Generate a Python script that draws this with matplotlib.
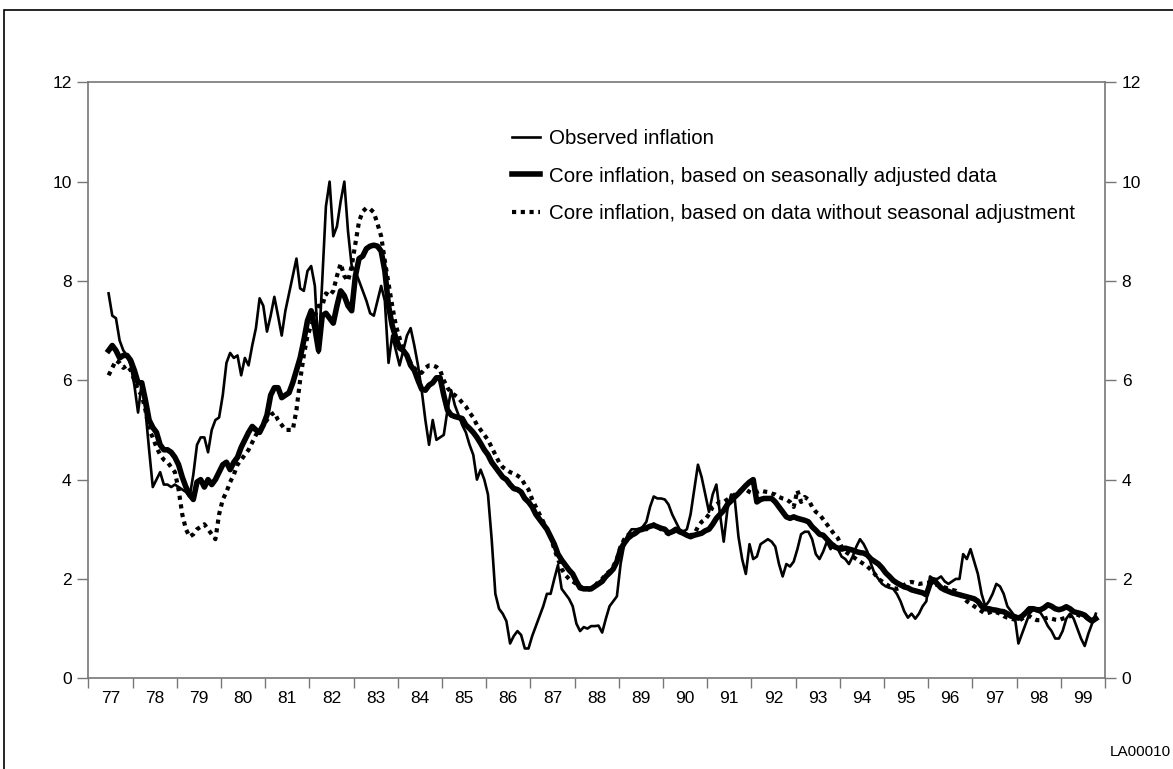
import numpy as np
import pandas as pd
import matplotlib.pyplot as plt
from matplotlib.patches import Rectangle

plt.rcParams['font.family'] = ['Liberation Sans', 'DejaVu Sans']

# Monthly 12-month inflation, June 1977 - October 1999
months = pd.date_range("1977-06-01", "1999-10-01", freq="MS")

observed = [
    7.75, 7.3, 7.25, 6.8, 6.6, 6.5, 6.3,                                   # 1977
    5.9, 5.35, 5.95, 5.4, 4.6, 3.85, 4.0, 4.15, 3.9, 3.9, 3.85, 3.9,      # 1978
    3.85, 3.8, 3.75, 3.65, 4.1, 4.7, 4.85, 4.85, 4.55, 5.0, 5.2, 5.25,    # 1979
    5.7, 6.35, 6.55, 6.45, 6.5, 6.1, 6.45, 6.3, 6.7, 7.05, 7.65, 7.5,     # 1980
    6.98, 7.3, 7.68, 7.3, 6.9, 7.4, 7.75, 8.1, 8.45, 7.85, 7.8, 8.2,      # 1981
    8.3, 7.9, 6.55, 8.0, 9.5, 10.0, 8.9, 9.1, 9.6, 10.0, 9.0, 8.3,        # 1982
    8.2, 8.0, 7.8, 7.6, 7.35, 7.3, 7.6, 7.9, 7.6, 6.35, 6.9, 6.6,         # 1983
    6.3, 6.6, 6.9, 7.05, 6.7, 6.3, 5.8, 5.2, 4.7, 5.2, 4.8, 4.85,         # 1984
    4.9, 5.4, 5.8, 5.5, 5.3, 5.1, 4.95, 4.7, 4.5, 4.0, 4.2, 4.0,          # 1985
    3.7, 2.8, 1.7, 1.4, 1.3, 1.15, 0.7, 0.85, 0.95, 0.87, 0.6, 0.6,       # 1986
    0.85, 1.05, 1.25, 1.45, 1.7, 1.7, 2.0, 2.28, 1.8, 1.7, 1.6, 1.45,     # 1987
    1.1, 0.95, 1.03, 1.0, 1.05, 1.05, 1.06, 0.92, 1.2, 1.45, 1.55, 1.65,  # 1988
    2.3, 2.7, 2.9, 3.0, 3.0, 3.0, 3.05, 3.15, 3.45, 3.66, 3.62, 3.62,     # 1989
    3.6, 3.5, 3.3, 3.15, 3.0, 2.95, 3.0, 3.3, 3.8, 4.3, 4.05, 3.7,        # 1990
    3.35, 3.7, 3.9, 3.3, 2.75, 3.4, 3.7, 3.6, 2.85, 2.4, 2.1, 2.7,        # 1991
    2.4, 2.45, 2.7, 2.75, 2.8, 2.75, 2.65, 2.3, 2.05, 2.3, 2.25, 2.35,    # 1992
    2.6, 2.9, 2.95, 2.95, 2.8, 2.5, 2.4, 2.55, 2.75, 2.6, 2.7, 2.6,       # 1993
    2.45, 2.4, 2.3, 2.45, 2.65, 2.8, 2.7, 2.55, 2.3, 2.1, 2.0, 1.9,       # 1994
    1.85, 1.82, 1.8, 1.7, 1.55, 1.35, 1.22, 1.3, 1.2, 1.3, 1.45, 1.55,    # 1995
    2.05, 2.0, 2.0, 2.05, 1.95, 1.9, 1.95, 2.0, 2.0, 2.5, 2.4, 2.6,       # 1996
    2.35, 2.1, 1.7, 1.45, 1.55, 1.7, 1.9, 1.85, 1.7, 1.45, 1.35, 1.25,    # 1997
    0.7, 0.9, 1.1, 1.3, 1.38, 1.35, 1.32, 1.2, 1.05, 0.95, 0.8, 0.8,      # 1998
    0.95, 1.2, 1.3, 1.2, 1.0, 0.8, 0.65, 0.9, 1.1, 1.3,                   # 1999
]

core_sa = [
    6.6, 6.7, 6.6, 6.45, 6.5, 6.5, 6.4,                                   # 1977
    6.2, 5.95, 5.95, 5.6, 5.2, 5.05, 4.95, 4.7, 4.6, 4.6, 4.55, 4.45,     # 1978
    4.3, 4.05, 3.85, 3.7, 3.6, 3.95, 4.0, 3.85, 4.0, 3.9, 4.0, 4.15,      # 1979
    4.3, 4.35, 4.2, 4.35, 4.45, 4.65, 4.8, 4.95, 5.07, 5.0, 4.95, 5.1,    # 1980
    5.3, 5.7, 5.85, 5.85, 5.65, 5.7, 5.75, 5.95, 6.2, 6.45, 6.8, 7.2,     # 1981
    7.4, 7.05, 6.6, 7.3, 7.35, 7.25, 7.15, 7.5, 7.8, 7.7, 7.5, 7.4,       # 1982
    8.1, 8.45, 8.5, 8.65, 8.7, 8.72, 8.7, 8.6, 8.2, 7.5, 7.1, 6.85,       # 1983
    6.65, 6.6, 6.5, 6.3, 6.2, 6.0, 5.82, 5.8, 5.9, 5.95, 6.05, 6.05,      # 1984
    5.7, 5.4, 5.3, 5.27, 5.25, 5.23, 5.1, 5.03, 4.95, 4.85, 4.73, 4.6,    # 1985
    4.5, 4.35, 4.25, 4.15, 4.05, 4.0, 3.9, 3.82, 3.8, 3.75, 3.62, 3.55,   # 1986
    3.45, 3.3, 3.2, 3.1, 3.0, 2.85, 2.7, 2.5, 2.38, 2.28, 2.18, 2.1,      # 1987
    1.95, 1.82, 1.8, 1.8, 1.8, 1.85, 1.9, 1.95, 2.05, 2.12, 2.2, 2.35,    # 1988
    2.6, 2.72, 2.82, 2.88, 2.92, 2.98, 3.0, 3.03, 3.06, 3.08, 3.05, 3.02, # 1989
    3.0, 2.92, 2.95, 3.0, 2.95, 2.92, 2.88, 2.85, 2.88, 2.9, 2.92, 2.97,  # 1990
    3.0, 3.1, 3.22, 3.3, 3.38, 3.5, 3.57, 3.65, 3.72, 3.8, 3.88, 3.95,    # 1991
    4.0, 3.55, 3.6, 3.62, 3.62, 3.62, 3.55, 3.45, 3.35, 3.25, 3.22, 3.25, # 1992
    3.22, 3.2, 3.18, 3.15, 3.05, 2.98, 2.9, 2.88, 2.8, 2.72, 2.65, 2.62,  # 1993
    2.6, 2.62, 2.6, 2.58, 2.55, 2.53, 2.52, 2.48, 2.4, 2.35, 2.3, 2.22,   # 1994
    2.12, 2.05, 1.97, 1.92, 1.88, 1.84, 1.82, 1.78, 1.76, 1.74, 1.72, 1.68,  # 1995
    1.9, 1.98, 1.9, 1.82, 1.78, 1.75, 1.72, 1.7, 1.68, 1.66, 1.64, 1.62,  # 1996
    1.6, 1.55, 1.45, 1.4, 1.4, 1.38, 1.37, 1.35, 1.34, 1.3, 1.25, 1.24,   # 1997
    1.21, 1.25, 1.32, 1.4, 1.4, 1.38, 1.38, 1.42, 1.48, 1.45, 1.4, 1.38,  # 1998
    1.4, 1.44, 1.4, 1.34, 1.32, 1.3, 1.27, 1.2, 1.15, 1.2,                # 1999
]

core_nsa = [
    6.1, 6.25, 6.4, 6.35, 6.25, 6.3, 6.2,                                 # 1977
    6.0, 5.8, 5.7, 5.4, 5.0, 4.85, 4.65, 4.5, 4.4, 4.35, 4.25, 4.15,      # 1978
    3.8, 3.3, 3.0, 2.85, 2.9, 3.0, 3.05, 3.1, 3.0, 2.9, 2.8, 3.3,         # 1979
    3.6, 3.75, 3.95, 4.1, 4.3, 4.4, 4.5, 4.6, 4.75, 4.9, 5.0, 5.1,        # 1980
    5.2, 5.3, 5.35, 5.2, 5.1, 5.0, 5.0, 5.0, 5.4, 6.0, 6.5, 6.9,          # 1981
    7.1, 7.3, 7.5, 7.5, 7.75, 7.7, 7.8, 8.1, 8.35, 8.1, 8.0, 8.3,         # 1982
    8.75, 9.2, 9.4, 9.47, 9.45, 9.38, 9.15, 8.9, 8.4, 7.95, 7.5, 7.1,     # 1983
    6.85, 6.6, 6.5, 6.35, 6.25, 6.15, 6.15, 6.25, 6.3, 6.3, 6.27, 6.2,    # 1984
    6.0, 5.85, 5.75, 5.7, 5.64, 5.55, 5.47, 5.35, 5.25, 5.1, 5.0, 4.9,    # 1985
    4.8, 4.65, 4.5, 4.35, 4.25, 4.2, 4.15, 4.12, 4.08, 4.03, 3.9, 3.8,    # 1986
    3.6, 3.45, 3.3, 3.15, 3.0, 2.85, 2.6, 2.4, 2.2, 2.08, 2.0, 1.95,      # 1987
    1.9, 1.85, 1.8, 1.78, 1.8, 1.85, 1.95, 2.0, 2.1, 2.15, 2.25, 2.4,     # 1988
    2.65, 2.8, 2.88, 2.92, 2.95, 3.0, 3.02, 3.0, 3.05, 3.1, 3.05, 3.0,    # 1989
    2.95, 2.9, 2.92, 2.98, 2.95, 2.95, 2.92, 2.88, 2.9, 3.05, 3.15, 3.2,  # 1990
    3.3, 3.45, 3.5, 3.55, 3.55, 3.6, 3.65, 3.7, 3.75, 3.8, 3.8, 3.75,     # 1991
    3.72, 3.75, 3.78, 3.76, 3.75, 3.72, 3.7, 3.65, 3.62, 3.6, 3.55, 3.45, # 1992
    3.78, 3.55, 3.65, 3.6, 3.45, 3.35, 3.3, 3.2, 3.1, 3.0, 2.9, 2.82,     # 1993
    2.65, 2.55, 2.5, 2.45, 2.4, 2.35, 2.3, 2.25, 2.18, 2.1, 2.0, 1.95,    # 1994
    1.9, 1.85, 1.82, 1.8, 1.82, 1.88, 1.92, 1.94, 1.92, 1.9, 1.91, 1.92,  # 1995
    1.93, 1.9, 1.88, 1.85, 1.83, 1.8, 1.78, 1.76, 1.7, 1.62, 1.55, 1.5,   # 1996
    1.45, 1.4, 1.35, 1.3, 1.32, 1.35, 1.33, 1.3, 1.25, 1.22, 1.2, 1.18,   # 1997
    1.15, 1.2, 1.25, 1.25, 1.2, 1.17, 1.17, 1.2, 1.22, 1.2, 1.18, 1.17,   # 1998
    1.2, 1.22, 1.25, 1.3, 1.28, 1.25, 1.24, 1.2, 1.18, 1.22,              # 1999
]

year_labels = [f"{y % 100:02d}" for y in range(1977, 2000)]

# plot each month at its mid point, in decimal years
t = months.year + (months.month - 0.5) / 12

fig = plt.figure(figsize=(11.73, 7.69), dpi=100)
ax = fig.add_axes([0.0753, 0.118, 0.8667, 0.775])

ax.plot(t, observed, color="black", lw=1.9, label="Observed inflation")
ax.plot(t, core_sa, color="black", lw=4.0,
        label="Core inflation, based on seasonally adjusted data")
ax.plot(t, core_nsa, color="black", lw=3.0, linestyle=(0, (1, 1.1)),
        dash_capstyle="butt",
        label="Core inflation, based on data without seasonal adjustment")

ax.set_xlim(1977, 2000)
ax.set_ylim(0, 12)

# year boundaries as ticks, year labels centred in between
ax.set_xticks(np.arange(1977, 2001))
ax.set_xticklabels([])
ax.set_xticks(np.arange(1977, 2000) + 0.5, minor=True)
ax.set_xticklabels(year_labels, minor=True)
ax.tick_params(axis="x", which="major", direction="out", length=7, width=1,
               color="#777777")
ax.tick_params(axis="x", which="minor", length=0, pad=9, labelsize=12.5)

ax.set_yticks(np.arange(0, 13, 2))
ax.tick_params(axis="y", direction="out", length=8, width=1, color="#777777",
               labelsize=12.5, left=True, right=True,
               labelleft=True, labelright=True, pad=4)

for s in ax.spines.values():
    s.set_color("#777777")
    s.set_linewidth(1.2)

leg = fig.legend(loc="upper left", bbox_to_anchor=(0.4365, 0.832),
                 frameon=False, fontsize=14.8, handlelength=1.36,
                 handletextpad=0.45, labelspacing=0.9, borderpad=0,
                 borderaxespad=0)

# outer frame around the figure
fig.patches.append(Rectangle((0.0035, -0.1), 1.2, 1.087, transform=fig.transFigure,
                             fill=False, edgecolor="black", lw=1.2))

fig.text(0.998, 1 - 752 / 769, "LA00010", fontsize=11, ha="right",
         va="center")

fig.savefig("out.png", dpi=100)
